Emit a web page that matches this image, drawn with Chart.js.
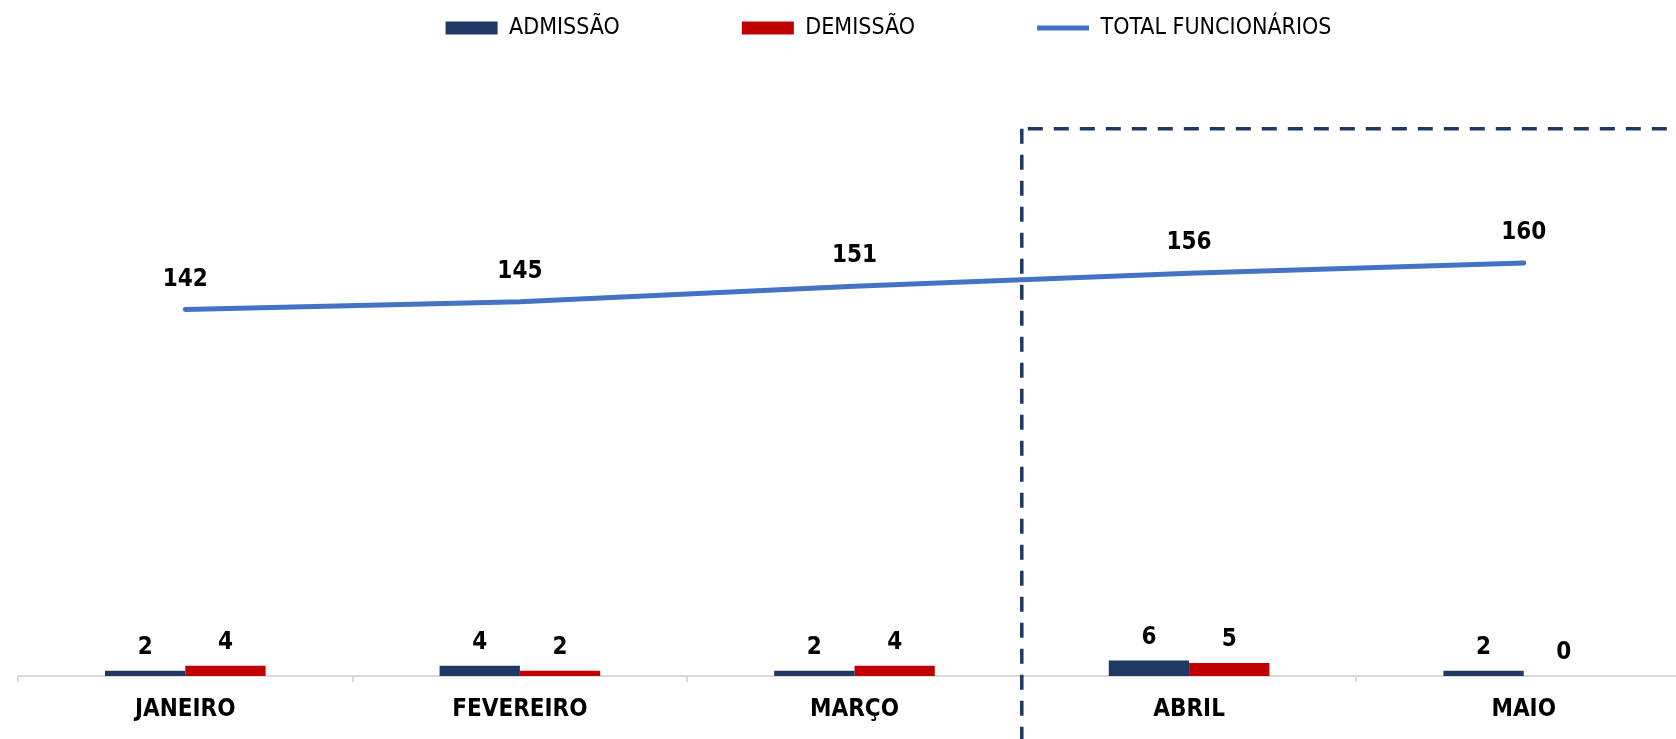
<!DOCTYPE html>
<html lang="pt-BR">
<head>
<meta charset="utf-8">
<title>Admissões e demissões</title>
<script src="https://cdn.jsdelivr.net/npm/chart.js@4.4.1/dist/chart.umd.min.js"></script>
<style>
  html, body { margin: 0; padding: 0; background: #fff; overflow: hidden; }
  #wrap { position: relative; width: 1710px; height: 739px; }
</style>
</head>
<body>
<div id="wrap"><canvas id="chart"></canvas></div>
<script>
const meses = ['JANEIRO', 'FEVEREIRO', 'MARÇO', 'ABRIL', 'MAIO'];
const admissao = [2, 4, 2, 6, 2];
const demissao = [4, 2, 4, 5, 0];
const totalFuncionarios = [142, 145, 151, 156, 160];

// caixa tracejada a partir de abril
const destaqueInicio = 'ABRIL';
const destaqueTopo = 212;
const eixoMax = 220;

const FONTE = "'Liberation Sans Narrow', 'DejaVu Sans Condensed', 'Arial Narrow', sans-serif";
const ESPACO_LEGENDA = 122;

// legenda: altura fixa e posição ajustada
const legendaFixa = {
  id: 'legendaFixa',
  beforeInit(chart) {
    const legend = chart.legend;
    const fit = legend.fit;
    legend.fit = function () {
      fit.call(this);
      this.height = 108;
    };
  },
  afterLayout(chart) {
    const legend = chart.legend;
    legend.top = 28 - ESPACO_LEGENDA - 11.5;
    legend.left += 34;
    legend.right += 34;
  }
};

// rótulos de valor acima das barras e da linha
const rotulos = {
  id: 'rotulos',
  afterDatasetsDraw(chart) {
    const ctx = chart.ctx;
    ctx.save();
    ctx.font = `bold 24px ${FONTE}`;
    ctx.fillStyle = '#000';
    ctx.textAlign = 'center';
    ctx.textBaseline = 'middle';
    chart.data.datasets.forEach((ds, i) => {
      const meta = chart.getDatasetMeta(i);
      const off = ds.type === 'line' ? 30 : 23;
      meta.data.forEach((el, j) => {
        ctx.fillText(String(ds.data[j]), el.x, el.y - off);
      });
    });
    ctx.restore();
  }
};

// linhas tracejadas de destaque
const destaque = {
  id: 'destaque',
  afterDatasetsDraw(chart) {
    const { ctx, scales: { x, y } } = chart;
    const i = meses.indexOf(destaqueInicio);
    const xLinha = (x.getPixelForValue(i - 1) + x.getPixelForValue(i)) / 2;
    const yTopo = y.getPixelForValue(destaqueTopo);
    ctx.save();
    ctx.strokeStyle = '#203864';
    ctx.lineWidth = 3.5;
    ctx.setLineDash([15, 11]);
    ctx.beginPath();
    ctx.moveTo(xLinha, yTopo);
    ctx.lineTo(xLinha, chart.height);
    ctx.stroke();
    ctx.beginPath();
    ctx.moveTo(xLinha + 6, yTopo);
    ctx.lineTo(chart.width, yTopo);
    ctx.stroke();
    ctx.restore();
  }
};

new Chart(document.getElementById('chart'), {
  type: 'bar',
  data: {
    labels: meses,
    datasets: [
      {
        type: 'bar',
        label: 'ADMISSÃO',
        data: admissao,
        backgroundColor: '#203864',
        pointStyle: 'rect',
        categoryPercentage: 0.48,
        barPercentage: 1,
        order: 2
      },
      {
        type: 'bar',
        label: 'DEMISSÃO',
        data: demissao,
        backgroundColor: '#C00000',
        pointStyle: 'rect',
        categoryPercentage: 0.48,
        barPercentage: 1,
        order: 2
      },
      {
        type: 'line',
        label: 'TOTAL FUNCIONÁRIOS',
        data: totalFuncionarios,
        borderColor: '#4472C4',
        backgroundColor: '#4472C4',
        borderWidth: 5,
        borderCapStyle: 'round',
        pointRadius: 0,
        pointStyle: 'line',
        tension: 0,
        order: 1
      }
    ]
  },
  options: {
    responsive: true,
    maintainAspectRatio: false,
    animation: false,
    layout: { padding: { left: 18, right: 19, top: 0, bottom: 0 } },
    plugins: {
      legend: {
        position: 'top',
        labels: {
          usePointStyle: true,
          pointStyleWidth: 52,
          boxHeight: 13,
          padding: ESPACO_LEGENDA,
          color: '#000',
          font: { family: FONTE, size: 23 },
          sort: (a, b) => a.datasetIndex - b.datasetIndex
        }
      },
      tooltip: { enabled: false }
    },
    scales: {
      x: {
        grid: {
          offset: true,
          drawOnChartArea: false,
          drawTicks: true,
          tickLength: 6,
          color: '#d9d9d9',
          lineWidth: 2
        },
        border: { color: '#d9d9d9', width: 2 },
        ticks: {
          color: '#000',
          padding: 13,
          font: { family: FONTE, size: 24, weight: 'bold' }
        },
        afterFit(s) { s.height = 63; }
      },
      y: { display: false, min: 0, max: eixoMax }
    }
  },
  plugins: [legendaFixa, rotulos, destaque]
});
</script>
</body>
</html>
